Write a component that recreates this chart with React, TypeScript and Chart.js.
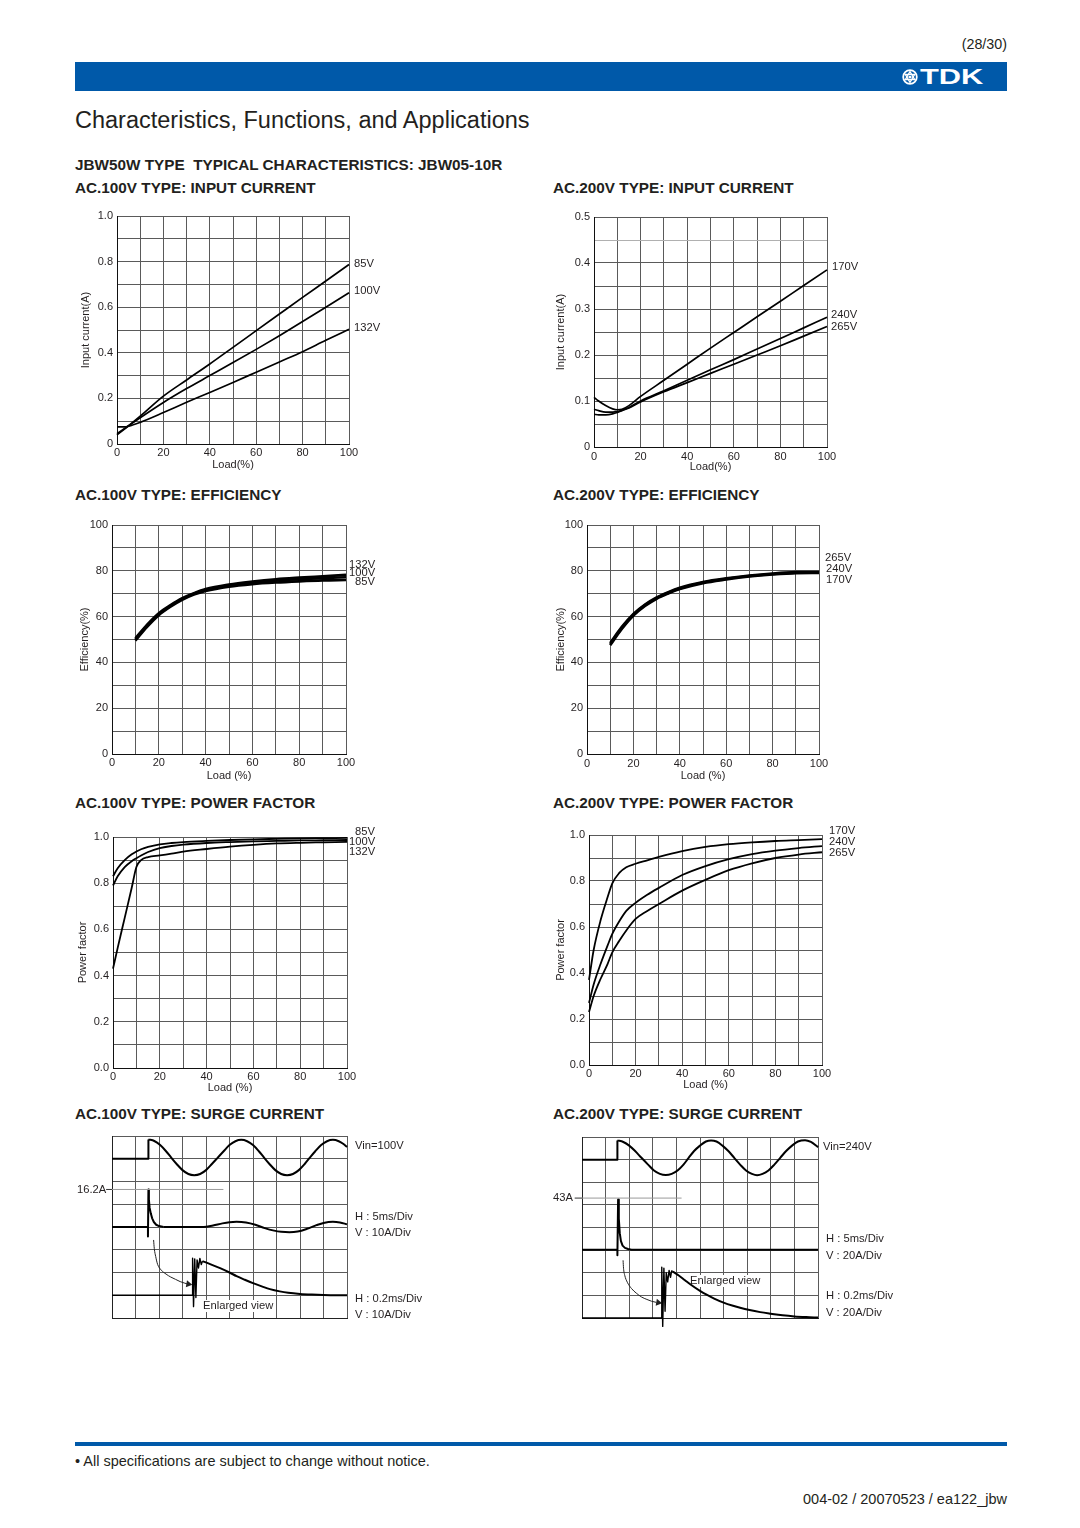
import React, { useEffect, useRef } from 'react';
import { Chart, registerables } from 'chart.js';

Chart.register(...registerables);

const FONT = "'Liberation Sans', Arial, Helvetica, sans-serif";
const INK = '#231f20';
const BLUE = '#0059a9';
const GRID = '#5a5a5a';

// ---------- axis ticks ----------
const LOAD_GRID = [0, 10, 20, 30, 40, 50, 60, 70, 80, 90, 100];
const LOAD_LABELS = ['0', '', '20', '', '40', '', '60', '', '80', '', '100'];
const AMP100_GRID = [0, 0.1, 0.2, 0.3, 0.4, 0.5, 0.6, 0.7, 0.8, 0.9, 1.0];
const AMP100_LABELS = ['0', '', '0.2', '', '0.4', '', '0.6', '', '0.8', '', '1.0'];
const AMP200_GRID = [0, 0.05, 0.1, 0.15, 0.2, 0.25, 0.3, 0.35, 0.4, 0.45, 0.5];
const AMP200_LABELS = ['0', '', '0.1', '', '0.2', '', '0.3', '', '0.4', '', '0.5'];
const AMP200_LIGHT = [0.45];
const EFF_GRID = [0, 10, 20, 30, 40, 50, 60, 70, 80, 90, 100];
const EFF_LABELS = ['0', '', '20', '', '40', '', '60', '', '80', '', '100'];
const PF_GRID = [0, 0.1, 0.2, 0.3, 0.4, 0.5, 0.6, 0.7, 0.8, 0.9, 1.0];
const PF_LABELS = ['0.0', '', '0.2', '', '0.4', '', '0.6', '', '0.8', '', '1.0'];
const DIV_X = [0, 1, 2, 3, 4, 5, 6, 7, 8, 9, 10];
const DIV_Y = [0, 1, 2, 3, 4, 5, 6, 7, 8];

// ---------- AC100 input current ----------
const IC100_X = [0, 5, 10, 20, 30, 40, 50, 60, 70, 80, 90, 100];
const IC100_85V = [0.04, 0.08, 0.122, 0.21, 0.281, 0.351, 0.424, 0.497, 0.57, 0.643, 0.715, 0.787];
const IC100_100V = [0.045, 0.08, 0.115, 0.182, 0.243, 0.3, 0.357, 0.415, 0.475, 0.537, 0.6, 0.663];
const IC132_X = [0, 3, 5, 10, 20, 30, 40, 50, 60, 70, 80, 90, 100];
const IC100_132V = [0.075, 0.075, 0.078, 0.095, 0.138, 0.183, 0.226, 0.27, 0.315, 0.36, 0.405, 0.455, 0.503];

// ---------- AC200 input current ----------
const IC200_X = [0, 2, 5, 8, 10, 12, 15, 20, 30, 40, 50, 60, 70, 80, 90, 100];
const IC200_170V = [0.108, 0.1, 0.09, 0.083, 0.081, 0.082, 0.09, 0.11, 0.145, 0.18, 0.215, 0.249, 0.283, 0.317, 0.351, 0.385];
const IC200_240V = [0.082, 0.079, 0.076, 0.076, 0.077, 0.08, 0.086, 0.1, 0.122, 0.145, 0.168, 0.19, 0.213, 0.236, 0.259, 0.282];
const IC200_265V = [0.071, 0.07, 0.07, 0.072, 0.075, 0.079, 0.085, 0.098, 0.12, 0.14, 0.16, 0.18, 0.2, 0.22, 0.241, 0.262];

// ---------- efficiency ----------
const EFF_X = [10, 15, 20, 25, 30, 35, 40, 50, 60, 70, 80, 90, 100];
const EF100_132V = [50.5, 56.5, 61.5, 65, 68, 70.2, 72, 74, 75.3, 76.3, 77, 77.6, 78.2];
const EF100_100V = [50, 56, 61, 64.7, 67.7, 70, 71.6, 73.6, 74.8, 75.7, 76.3, 76.8, 77.2];
const EF100_85V = [49.5, 55.5, 60.6, 64.3, 67.3, 69.6, 71.2, 73.1, 74.2, 74.9, 75.4, 75.8, 76.0];
const EF200_265V = [48.5, 55.5, 61.2, 65.3, 68.4, 70.7, 72.6, 75.1, 76.7, 77.9, 78.8, 79.4, 79.5];
const EF200_240V = [48, 55, 60.8, 65, 68.1, 70.4, 72.3, 74.9, 76.5, 77.7, 78.6, 79.2, 79.3];
const EF200_170V = [47.5, 54.6, 60.4, 64.6, 67.8, 70.1, 72.0, 74.6, 76.2, 77.5, 78.4, 79.0, 79.1];

// ---------- power factor ----------
const PF100_X = [0, 2, 5, 8, 10, 12, 15, 20, 25, 30, 40, 50, 60, 70, 80, 90, 100];
const PF100_85V = [0.83, 0.865, 0.9, 0.925, 0.937, 0.947, 0.957, 0.968, 0.974, 0.978, 0.983, 0.987, 0.99, 0.992, 0.994, 0.995, 0.996];
const PF100_100V = [0.79, 0.83, 0.87, 0.895, 0.908, 0.92, 0.935, 0.952, 0.961, 0.967, 0.974, 0.978, 0.981, 0.983, 0.985, 0.986, 0.987];
const PF100_132V = [0.43, 0.52, 0.65, 0.78, 0.87, 0.9, 0.913, 0.92, 0.928, 0.937, 0.948, 0.958, 0.966, 0.972, 0.975, 0.977, 0.979];
const PF200_X = [0, 2, 5, 8, 10, 13, 16, 20, 25, 30, 40, 50, 60, 70, 80, 90, 100];
const PF200_170V = [0.37, 0.5, 0.63, 0.73, 0.79, 0.835, 0.86, 0.875, 0.89, 0.905, 0.93, 0.948, 0.96, 0.968, 0.974, 0.978, 0.982];
const PF200_240V = [0.27, 0.35, 0.44, 0.52, 0.57, 0.625, 0.67, 0.705, 0.74, 0.77, 0.826, 0.865, 0.895, 0.917, 0.932, 0.943, 0.952];
const PF200_265V = [0.23, 0.3, 0.375, 0.44, 0.49, 0.54, 0.585, 0.635, 0.67, 0.7, 0.758, 0.805, 0.847, 0.877, 0.9, 0.915, 0.925];

// ---------- surge AC100 (x, y in scope divisions) ----------
const VIN100_STEP_X = [0, 1.55, 1.55];
const VIN100_STEP_Y = [7.0, 7.0, 7.85];
const VIN100_WAVE_X = [1.55, 1.8, 2.05, 2.3, 2.52, 2.75, 3.0, 3.25, 3.5, 3.75, 4.0, 4.25, 4.5, 4.75, 5.0, 5.25, 5.5, 5.75, 6.0, 6.25, 6.47, 6.7, 6.95, 7.2, 7.45, 7.7, 7.95, 8.2, 8.42, 8.65, 8.9, 9.15, 9.4, 9.65, 9.85, 10];
const VIN100_WAVE_Y = [7.85, 7.78, 7.6, 7.33, 7.05, 6.77, 6.5, 6.33, 6.28, 6.33, 6.5, 6.77, 7.05, 7.33, 7.6, 7.77, 7.83, 7.77, 7.6, 7.33, 7.05, 6.77, 6.5, 6.33, 6.28, 6.33, 6.5, 6.77, 7.05, 7.33, 7.6, 7.77, 7.83, 7.77, 7.65, 7.52];
const CUR100_SPIKE_X = [0, 1.53, 1.53, 1.55, 1.57, 1.6, 1.65, 1.71, 1.78, 1.88, 2.0, 2.2];
const CUR100_SPIKE_Y = [4.0, 4.0, 3.58, 5.65, 5.2, 4.85, 4.6, 4.38, 4.22, 4.1, 4.04, 4.0];
const CUR100_WAVE_X = [2.2, 3.0, 3.9, 4.3, 4.7, 5.0, 5.3, 5.7, 6.1, 6.5, 6.9, 7.2, 7.55, 7.9, 8.3, 8.7, 9.0, 9.4, 9.7, 10];
const CUR100_WAVE_Y = [4.0, 4.0, 4.0, 4.07, 4.16, 4.21, 4.23, 4.2, 4.1, 3.95, 3.84, 3.79, 3.77, 3.8, 3.92, 4.08, 4.18, 4.23, 4.2, 4.12];
const ENL100_RING_X = [0, 3.42, 3.43, 3.47, 3.52, 3.57, 3.62, 3.68, 3.74, 3.8, 3.85];
const ENL100_RING_Y = [1.0, 1.0, 2.63, 0.5, 2.6, 0.9, 2.55, 2.2, 2.62, 2.35, 2.5];
const ENL100_DECAY_X = [3.85, 4.2, 4.6, 5.0, 5.3, 5.65, 6.0, 6.4, 6.72, 7.14, 7.5, 8.0, 8.5, 9.0, 9.5, 10];
const ENL100_DECAY_Y = [2.5, 2.36, 2.19, 2.0, 1.84, 1.68, 1.53, 1.38, 1.27, 1.17, 1.11, 1.06, 1.03, 1.01, 1.0, 1.0];
const ARROW100_X = [1.77, 1.8, 1.86, 1.94, 2.1, 2.3, 2.5, 2.7, 2.9, 3.1, 3.2];
const ARROW100_Y = [3.43, 3.05, 2.7, 2.36, 2.1, 1.93, 1.8, 1.7, 1.6, 1.53, 1.5];
const HEAD100_X = [3.25];
const HEAD100_Y = [1.49];
const PEAK100_LEAD_X = [-0.25, 0];
const PEAK100_LINE_X = [0, 4.74];
const PEAK100_Y = [5.65, 5.65];

// ---------- surge AC240 ----------
const VIN240_STEP_X = [0, 1.5, 1.5];
const VIN240_STEP_Y = [7.0, 7.0, 7.85];
const VIN240_WAVE_X = [1.5, 1.75, 2.0, 2.25, 2.52, 2.8, 3.05, 3.3, 3.55, 3.8, 4.05, 4.3, 4.52, 4.75, 5.0, 5.25, 5.47, 5.7, 5.95, 6.2, 6.45, 6.7, 6.95, 7.2, 7.42, 7.65, 7.9, 8.15, 8.4, 8.65, 8.9, 9.15, 9.45, 9.7, 10];
const VIN240_WAVE_Y = [7.85, 7.78, 7.62, 7.38, 7.08, 6.78, 6.52, 6.37, 6.32, 6.37, 6.52, 6.78, 7.08, 7.38, 7.62, 7.8, 7.85, 7.8, 7.62, 7.38, 7.08, 6.78, 6.52, 6.37, 6.31, 6.37, 6.52, 6.78, 7.08, 7.38, 7.62, 7.8, 7.86, 7.78, 7.55];
const CUR240_X = [0, 1.5, 1.5, 1.53, 1.56, 1.6, 1.65, 1.72, 1.82, 1.95, 2.1, 10];
const CUR240_Y = [3.02, 3.02, 2.77, 5.24, 4.4, 3.75, 3.4, 3.2, 3.1, 3.05, 3.02, 3.02];
const ENL240_RING_X = [0, 3.37, 3.38, 3.42, 3.47, 3.52, 3.57, 3.63, 3.69, 3.75, 3.8, 3.85];
const ENL240_RING_Y = [0, 0, 2.25, -0.37, 2.2, 0.3, 2.0, 1.6, 2.1, 1.8, 2.08, 2.05];
const ENL240_DECAY_X = [3.85, 4.1, 4.35, 4.6, 5.0, 5.3, 5.6, 6.0, 6.4, 6.7, 7.1, 7.55, 8.0, 8.5, 9.0, 9.5, 10];
const ENL240_DECAY_Y = [2.05, 1.88, 1.68, 1.48, 1.2, 1.02, 0.86, 0.68, 0.54, 0.45, 0.35, 0.26, 0.19, 0.12, 0.07, 0.04, 0.02];
const ARROW240_X = [1.74, 1.76, 1.81, 1.92, 2.1, 2.3, 2.52, 2.75, 2.95, 3.15];
const ARROW240_Y = [2.55, 2.2, 1.89, 1.58, 1.3, 1.1, 0.93, 0.82, 0.74, 0.69];
const HEAD240_X = [3.23];
const HEAD240_Y = [0.68];
const PEAK240_LEAD_X = [-0.31, 0];
const PEAK240_LINE_X = [0, 4.22];
const PEAK240_Y = [5.3, 5.3];

// ---------- helpers ----------
const LH = 11 * 1.2;
const PAD_T = 14;
const PAD_R = 16;
const X_AXIS_H = 30;

function ser(x: number[], y: number[], w: number, extra: any = {}) {
  return { x, y, w, ...extra };
}

function lineDataset(s: any) {
  const col = s.color || '#000';
  return {
    data: s.x.map((x: number, i: number) => ({ x, y: s.y[i] })),
    showLine: s.showLine !== false,
    borderColor: col,
    backgroundColor: col,
    borderWidth: s.w,
    pointRadius: s.pointRadius || 0,
    pointHoverRadius: 0,
    pointStyle: s.pointStyle || 'circle',
    rotation: s.rotation || 0,
    pointBorderWidth: 0,
    cubicInterpolationMode: s.smooth ? 'monotone' : 'default',
    tension: 0,
    fill: false,
    clip: false,
    borderJoinStyle: 'round',
  };
}

function xyConfig(o: any) {
  const [l] = o.plot;
  const tickFont = { family: FONT, size: 11 };
  return {
    type: 'scatter',
    data: { datasets: o.series.map(lineDataset) },
    options: {
      animation: false,
      responsive: false,
      maintainAspectRatio: false,
      devicePixelRatio: 1,
      events: [],
      layout: { padding: { top: PAD_T, right: PAD_R, left: 0, bottom: 0 } },
      plugins: { legend: { display: false }, tooltip: { enabled: false } },
      scales: {
        x: {
          type: 'linear',
          min: 0,
          max: 100,
          afterBuildTicks: (s: any) => { s.ticks = LOAD_GRID.map((v) => ({ value: v })); },
          afterFit: (s: any) => { s.height = X_AXIS_H; },
          ticks: {
            autoSkip: false, maxRotation: 0, minRotation: 0,
            padding: o.xLabelGap - LH / 2, font: tickFont, color: INK,
            callback: (_v: any, i: number) => LOAD_LABELS[i],
          },
          grid: { color: GRID, lineWidth: 1, drawTicks: false },
          border: { display: true, color: '#111', width: 1 },
          title: {
            display: true, text: o.xTitle, font: tickFont, color: INK,
            padding: { top: 0, bottom: X_AXIS_H - LH / 2 - o.xTitleGap },
          },
        },
        y: {
          type: 'linear',
          min: 0,
          max: o.yMax,
          afterBuildTicks: (s: any) => { s.ticks = o.yGrid.map((v: number) => ({ value: v })); },
          afterFit: (s: any) => { s.width = l - o.canvasLeft; },
          ticks: {
            autoSkip: false, padding: 4, font: tickFont, color: INK,
            callback: (_v: any, i: number) => o.yLabels[i],
          },
          grid: {
            color: (c: any) =>
              o.light && c.tick && o.light.some((v: number) => Math.abs(v - c.tick.value) < 1e-6) ? '#b0b0b0' : GRID,
            lineWidth: 1,
            drawTicks: false,
          },
          border: { display: true, color: '#111', width: 1 },
          title: {
            display: true, text: o.yTitle, font: tickFont, color: INK,
            padding: { top: o.yTitleX - o.canvasLeft - LH / 2, bottom: 0 },
          },
        },
      },
    },
  };
}

const S_PAD_T = 10;
const S_PAD_R = 10;
const S_PAD_B = 20;

function surgeConfig(o: any) {
  const [l, t] = o.plot;
  const canvasTop = t - S_PAD_T;
  return {
    type: 'scatter',
    data: { datasets: o.series.map(lineDataset) },
    options: {
      animation: false,
      responsive: false,
      maintainAspectRatio: false,
      devicePixelRatio: 1,
      events: [],
      layout: { padding: { top: S_PAD_T, right: S_PAD_R, left: l - o.canvasLeft, bottom: S_PAD_B } },
      plugins: { legend: { display: false }, tooltip: { enabled: false } },
      scales: {
        x: {
          type: 'linear', min: 0, max: 10,
          afterBuildTicks: (s: any) => { s.ticks = DIV_X.map((v) => ({ value: v })); },
          afterFit: (s: any) => { s.height = 0; },
          ticks: { display: false },
          grid: { color: GRID, lineWidth: 1, drawTicks: false },
          border: { display: true, color: '#222', width: 1 },
        },
        y: {
          type: 'linear', min: 0, max: 8,
          afterBuildTicks: (s: any) => { s.ticks = DIV_Y.map((v) => ({ value: v })); },
          afterFit: (s: any) => { s.width = 0; },
          ticks: { display: false },
          grid: { color: GRID, lineWidth: 1, drawTicks: false },
          border: { display: true, color: '#222', width: 1 },
        },
      },
    },
    plugins: [
      {
        id: 'innerText',
        beforeDatasetsDraw(chart: any) {
          const ctx = chart.ctx;
          ctx.save();
          ctx.font = `11.2px ${FONT}`;
          ctx.textBaseline = 'middle';
          for (const lb of o.texts) {
            const x = lb.x - o.canvasLeft;
            const y = lb.y - canvasTop;
            const w = ctx.measureText(lb.text).width;
            ctx.fillStyle = '#fff';
            ctx.fillRect(x - 1, y - 6, w + 2, 12);
            ctx.fillStyle = INK;
            ctx.fillText(lb.text, x, y);
          }
          ctx.restore();
        },
      },
    ],
  };
}

function ChartCanvas({ box, make }: { box: any; make: () => any }) {
  const ref = useRef<HTMLCanvasElement | null>(null);
  useEffect(() => {
    const chart = new Chart(ref.current as HTMLCanvasElement, make());
    return () => chart.destroy();
  }, []);
  return (
    <canvas
      ref={ref}
      width={box.width}
      height={box.height}
      style={{ position: 'absolute', left: box.left, top: box.top, width: box.width, height: box.height }}
    />
  );
}

function XYChart(o: any) {
  const [l, t, r, b] = o.plot;
  const box = { left: o.canvasLeft, top: t - PAD_T, width: r + PAD_R - o.canvasLeft, height: b - t + PAD_T + X_AXIS_H };
  return <ChartCanvas box={box} make={() => xyConfig(o)} />;
}

function SurgeChart(o: any) {
  const [l, t, r, b] = o.plot;
  const box = { left: o.canvasLeft, top: t - S_PAD_T, width: r + S_PAD_R - o.canvasLeft, height: b - t + S_PAD_T + S_PAD_B };
  return <ChartCanvas box={box} make={() => surgeConfig(o)} />;
}

function T({ x, y, s = 11.2, b = false, right = false, color = INK, children, style = {} }: any) {
  return (
    <div
      style={{
        position: 'absolute', left: x, top: y,
        transform: right ? 'translate(-100%, -50%)' : 'translateY(-50%)',
        fontFamily: FONT, fontSize: s, fontWeight: b ? 700 : 400, lineHeight: 1,
        whiteSpace: 'pre', color, ...style,
      }}
    >
      {children}
    </div>
  );
}

const ARROW = { color: '#222' };

export default function App() {
  return (
    <div style={{ position: 'absolute', left: 0, top: 0, width: 1080, height: 1528, background: '#fff', overflow: 'hidden' }}>
      {/* header */}
      <T x={1007} y={44} s={14.3} right>(28/30)</T>
      <div style={{ position: 'absolute', left: 75, top: 62, width: 932, height: 29, background: BLUE }} />
      <svg style={{ position: 'absolute', left: 902, top: 69 }} width={16} height={16} viewBox="0 0 16 16">
        <circle cx={8} cy={8} r={6.8} fill="none" stroke="#fff" strokeWidth={1.8} />
        <polygon points="8,2.6 12.7,10.7 3.3,10.7" fill="none" stroke="#fff" strokeWidth={1.3} />
        <polygon points="8,13.4 12.7,5.3 3.3,5.3" fill="none" stroke="#fff" strokeWidth={1.3} />
        <circle cx={8} cy={8} r={1.6} fill="#fff" />
      </svg>
      <T x={920} y={77} s={22} b color="#fff" style={{ transform: 'translateY(-50%) scaleX(1.4)', transformOrigin: 'left center' }}>TDK</T>
      <T x={75} y={121} s={23.5}>Characteristics, Functions, and Applications</T>
      <T x={75} y={165} s={15.3} b>{'JBW50W TYPE  TYPICAL CHARACTERISTICS: JBW05-10R'}</T>

      <T x={75} y={188} s={15.3} b>AC.100V TYPE: INPUT CURRENT</T>
      <T x={553} y={188} s={15.3} b>AC.200V TYPE: INPUT CURRENT</T>
      <T x={75} y={495} s={15.3} b>AC.100V TYPE: EFFICIENCY</T>
      <T x={553} y={495} s={15.3} b>AC.200V TYPE: EFFICIENCY</T>
      <T x={75} y={803} s={15.3} b>AC.100V TYPE: POWER FACTOR</T>
      <T x={553} y={803} s={15.3} b>AC.200V TYPE: POWER FACTOR</T>
      <T x={75} y={1114} s={15.3} b>AC.100V TYPE: SURGE CURRENT</T>
      <T x={553} y={1114} s={15.3} b>AC.200V TYPE: SURGE CURRENT</T>

      {/* input current */}
      <XYChart
        plot={[117, 216, 349, 444]} canvasLeft={60} yMax={1} yGrid={AMP100_GRID} yLabels={AMP100_LABELS}
        yTitle="Input current(A)" yTitleX={86} xTitle="Load(%)" xLabelGap={9} xTitleGap={21}
        series={[
          ser(IC100_X, IC100_85V, 1.7, { smooth: true }),
          ser(IC100_X, IC100_100V, 1.7, { smooth: true }),
          ser(IC132_X, IC100_132V, 1.7, { smooth: true }),
        ]}
      />
      <XYChart
        plot={[594, 217, 827, 447]} canvasLeft={540} yMax={0.5} yGrid={AMP200_GRID} yLabels={AMP200_LABELS} light={AMP200_LIGHT}
        yTitle="Input current(A)" yTitleX={561} xTitle="Load(%)" xLabelGap={10} xTitleGap={20}
        series={[
          ser(IC200_X, IC200_170V, 1.7, { smooth: true }),
          ser(IC200_X, IC200_240V, 1.7, { smooth: true }),
          ser(IC200_X, IC200_265V, 1.7, { smooth: true }),
        ]}
      />
      <T x={354} y={264}>85V</T>
      <T x={354} y={291}>100V</T>
      <T x={354} y={328}>132V</T>
      <T x={832} y={267}>170V</T>
      <T x={831} y={315}>240V</T>
      <T x={831} y={327}>265V</T>

      {/* efficiency */}
      <XYChart
        plot={[112, 525, 346, 754]} canvasLeft={60} yMax={100} yGrid={EFF_GRID} yLabels={EFF_LABELS}
        yTitle="Efficiency(%)" yTitleX={85} xTitle="Load (%)" xLabelGap={9} xTitleGap={22}
        series={[
          ser(EFF_X, EF100_85V, 2.6, { smooth: true }),
          ser(EFF_X, EF100_100V, 2.6, { smooth: true }),
          ser(EFF_X, EF100_132V, 2.6, { smooth: true }),
        ]}
      />
      <XYChart
        plot={[587, 525, 819, 754]} canvasLeft={540} yMax={100} yGrid={EFF_GRID} yLabels={EFF_LABELS}
        yTitle="Efficiency(%)" yTitleX={561} xTitle="Load (%)" xLabelGap={10} xTitleGap={22}
        series={[
          ser(EFF_X, EF200_170V, 2.6, { smooth: true }),
          ser(EFF_X, EF200_240V, 2.6, { smooth: true }),
          ser(EFF_X, EF200_265V, 2.6, { smooth: true }),
        ]}
      />
      <T x={349} y={565}>132V</T>
      <T x={349} y={573}>100V</T>
      <T x={355} y={582}>85V</T>
      <T x={825} y={558}>265V</T>
      <T x={826} y={569}>240V</T>
      <T x={826} y={580}>170V</T>

      {/* power factor */}
      <XYChart
        plot={[113, 837, 347, 1068]} canvasLeft={60} yMax={1} yGrid={PF_GRID} yLabels={PF_LABELS}
        yTitle="Power factor" yTitleX={83} xTitle="Load (%)" xLabelGap={9} xTitleGap={20}
        series={[
          ser(PF100_X, PF100_85V, 1.8, { smooth: true }),
          ser(PF100_X, PF100_100V, 1.8, { smooth: true }),
          ser(PF100_X, PF100_132V, 1.8, { smooth: true }),
        ]}
      />
      <XYChart
        plot={[589, 835, 822, 1065]} canvasLeft={540} yMax={1} yGrid={PF_GRID} yLabels={PF_LABELS}
        yTitle="Power factor" yTitleX={561} xTitle="Load (%)" xLabelGap={9} xTitleGap={20}
        series={[
          ser(PF200_X, PF200_170V, 1.8, { smooth: true }),
          ser(PF200_X, PF200_240V, 1.8, { smooth: true }),
          ser(PF200_X, PF200_265V, 1.8, { smooth: true }),
        ]}
      />
      <T x={355} y={832}>85V</T>
      <T x={349} y={842}>100V</T>
      <T x={349} y={852}>132V</T>
      <T x={829} y={831}>170V</T>
      <T x={829} y={842}>240V</T>
      <T x={829} y={853}>265V</T>

      {/* surge current */}
      <SurgeChart
        plot={[112, 1136, 347, 1318]} canvasLeft={72}
        texts={[{ text: 'Enlarged view', x: 203, y: 1306 }]}
        series={[
          ser(PEAK100_LINE_X, PEAK100_Y, 1, { color: '#9a9a9a' }),
          ser(PEAK100_LEAD_X, PEAK100_Y, 1, { color: '#333' }),
          ser(VIN100_STEP_X, VIN100_STEP_Y, 2),
          ser(VIN100_WAVE_X, VIN100_WAVE_Y, 2, { smooth: true }),
          ser(CUR100_SPIKE_X, CUR100_SPIKE_Y, 2),
          ser(CUR100_WAVE_X, CUR100_WAVE_Y, 2, { smooth: true }),
          ser(ENL100_RING_X, ENL100_RING_Y, 1.4),
          ser(ENL100_DECAY_X, ENL100_DECAY_Y, 2, { smooth: true }),
          ser(ARROW100_X, ARROW100_Y, 1, { smooth: true, ...ARROW }),
          ser(HEAD100_X, HEAD100_Y, 1, { showLine: false, pointRadius: 4, pointStyle: 'triangle', rotation: 100, ...ARROW }),
        ]}
      />
      <T x={355} y={1146}>Vin=100V</T>
      <T x={355} y={1217}>H : 5ms/Div</T>
      <T x={355} y={1233}>V : 10A/Div</T>
      <T x={355} y={1299}>H : 0.2ms/Div</T>
      <T x={355} y={1315}>V : 10A/Div</T>
      <T x={77} y={1190}>16.2A</T>

      <SurgeChart
        plot={[582, 1137, 818, 1318]} canvasLeft={542}
        texts={[{ text: 'Enlarged view', x: 690, y: 1281 }]}
        series={[
          ser(PEAK240_LINE_X, PEAK240_Y, 1, { color: '#9a9a9a' }),
          ser(PEAK240_LEAD_X, PEAK240_Y, 1, { color: '#333' }),
          ser(VIN240_STEP_X, VIN240_STEP_Y, 2),
          ser(VIN240_WAVE_X, VIN240_WAVE_Y, 2, { smooth: true }),
          ser(CUR240_X, CUR240_Y, 2),
          ser(ENL240_RING_X, ENL240_RING_Y, 1.4),
          ser(ENL240_DECAY_X, ENL240_DECAY_Y, 2, { smooth: true }),
          ser(ARROW240_X, ARROW240_Y, 1, { smooth: true, ...ARROW }),
          ser(HEAD240_X, HEAD240_Y, 1, { showLine: false, pointRadius: 4, pointStyle: 'triangle', rotation: 100, ...ARROW }),
        ]}
      />
      <T x={823} y={1147}>Vin=240V</T>
      <T x={826} y={1239}>H : 5ms/Div</T>
      <T x={826} y={1256}>V : 20A/Div</T>
      <T x={826} y={1296}>H : 0.2ms/Div</T>
      <T x={826} y={1313}>V : 20A/Div</T>
      <T x={553} y={1198}>43A</T>

      {/* footer */}
      <div style={{ position: 'absolute', left: 75, top: 1442, width: 932, height: 4, background: BLUE }} />
      <T x={75} y={1461} s={14.5}>• All specifications are subject to change without notice.</T>
      <T x={1007} y={1499} s={14.5} right>004-02 / 20070523 / ea122_jbw</T>
    </div>
  );
}
